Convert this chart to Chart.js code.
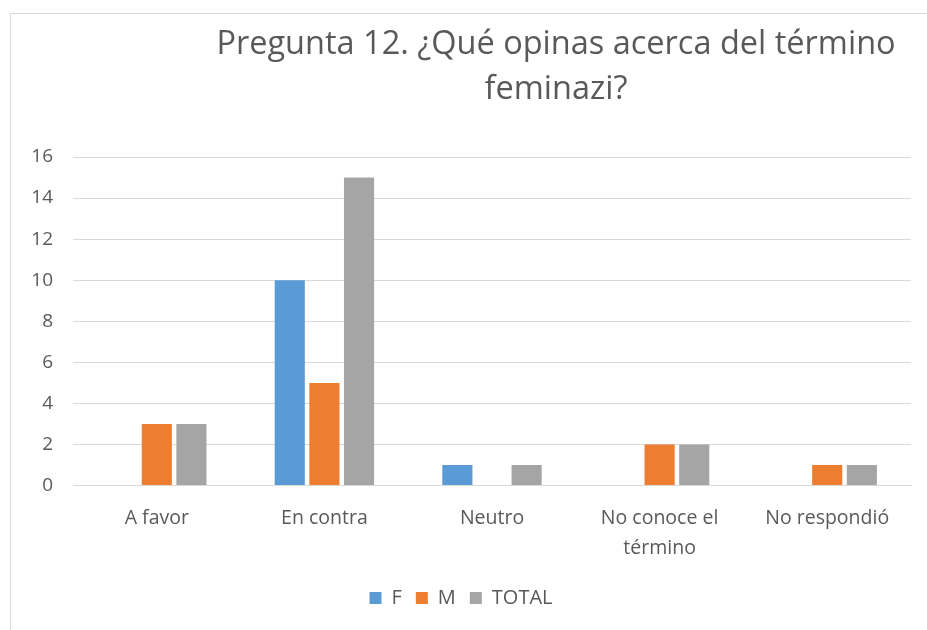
<!DOCTYPE html>
<html>
<head>
<meta charset="utf-8">
<script src="https://cdn.jsdelivr.net/npm/chart.js@4"></script>
<style>
  body { margin: 0; background: #fff; }
  #box { position: absolute; left: 10px; top: 13px; width: 940px; height: 640px; border: 1px solid #d9d9d9; box-sizing: border-box; }
  #wrap { position: absolute; left: 11px; top: 14px; width: 916px; height: 616px; }
</style>
</head>
<body>
<div id="box"></div>
<div id="wrap"><canvas id="chart"></canvas></div>
<script>
const categories = ['A favor', 'En contra', 'Neutro', ['No conoce el', 'término'], 'No respondió'];
const seriesF = [0, 10, 1, 0, 0];
const seriesM = [3, 5, 0, 2, 1];
const seriesTotal = [3, 15, 1, 2, 1];
const yTicks = [0, 2, 4, 6, 8, 10, 12, 14, 16];
const titleLines = ['Pregunta 12. ¿Qué opinas acerca del término', 'feminazi?'];

const textColor = '#595959';
const gridColor = '#d9d9d9';
const fontFamily = "'Open Sans', 'Noto Sans', sans-serif";

const titlePlugin = {
    id: 'excelTitle',
    afterDraw(chart) {
        const c = chart.ctx;
        c.save();
        c.fillStyle = textColor;
        c.font = "32.5px " + fontFamily;
        c.textAlign = 'center';
        c.textBaseline = 'middle';
        c.fillText(titleLines[0], 545, 31);
        c.fillText(titleLines[1], 545, 76);
        c.restore();
    }
};

new Chart(document.getElementById('chart'), {
    type: 'bar',
    data: {
        labels: categories,
        datasets: [
            { label: 'F', data: seriesF, backgroundColor: '#5b9bd5' },
            { label: 'M', data: seriesM, backgroundColor: '#ed7d31' },
            { label: 'TOTAL', data: seriesTotal, backgroundColor: '#a5a5a5' }
        ]
    },
    options: {
        responsive: true,
        maintainAspectRatio: false,
        animation: false,
        categoryPercentage: 0.62,
        barPercentage: 0.87,
        layout: { padding: { top: 143, right: 16, left: 0, bottom: 12 } },
        plugins: {
            title: { display: false },
            tooltip: { enabled: false },
            legend: {
                position: 'bottom',
                labels: {
                    color: textColor,
                    boxWidth: 12,
                    boxHeight: 12,
                    padding: 14,
                    font: { size: 20, family: fontFamily }
                }
            }
        },
        scales: {
            x: {
                grid: { display: false },
                border: { color: gridColor },
                ticks: { color: textColor, font: { size: 19.5, family: fontFamily, lineHeight: 1.55 }, maxRotation: 0, padding: 10 }
            },
            y: {
                min: 0,
                max: 16,
                afterBuildTicks(axis) { axis.ticks = yTicks.map(v => ({ value: v })); },
                afterFit(axis) { axis.width = 62; },
                grid: { color: gridColor, drawTicks: false },
                border: { display: false },
                ticks: { color: textColor, font: { size: 19, family: fontFamily }, padding: 20 }
            }
        }
    },
    plugins: [titlePlugin]
});
</script>
</body>
</html>
